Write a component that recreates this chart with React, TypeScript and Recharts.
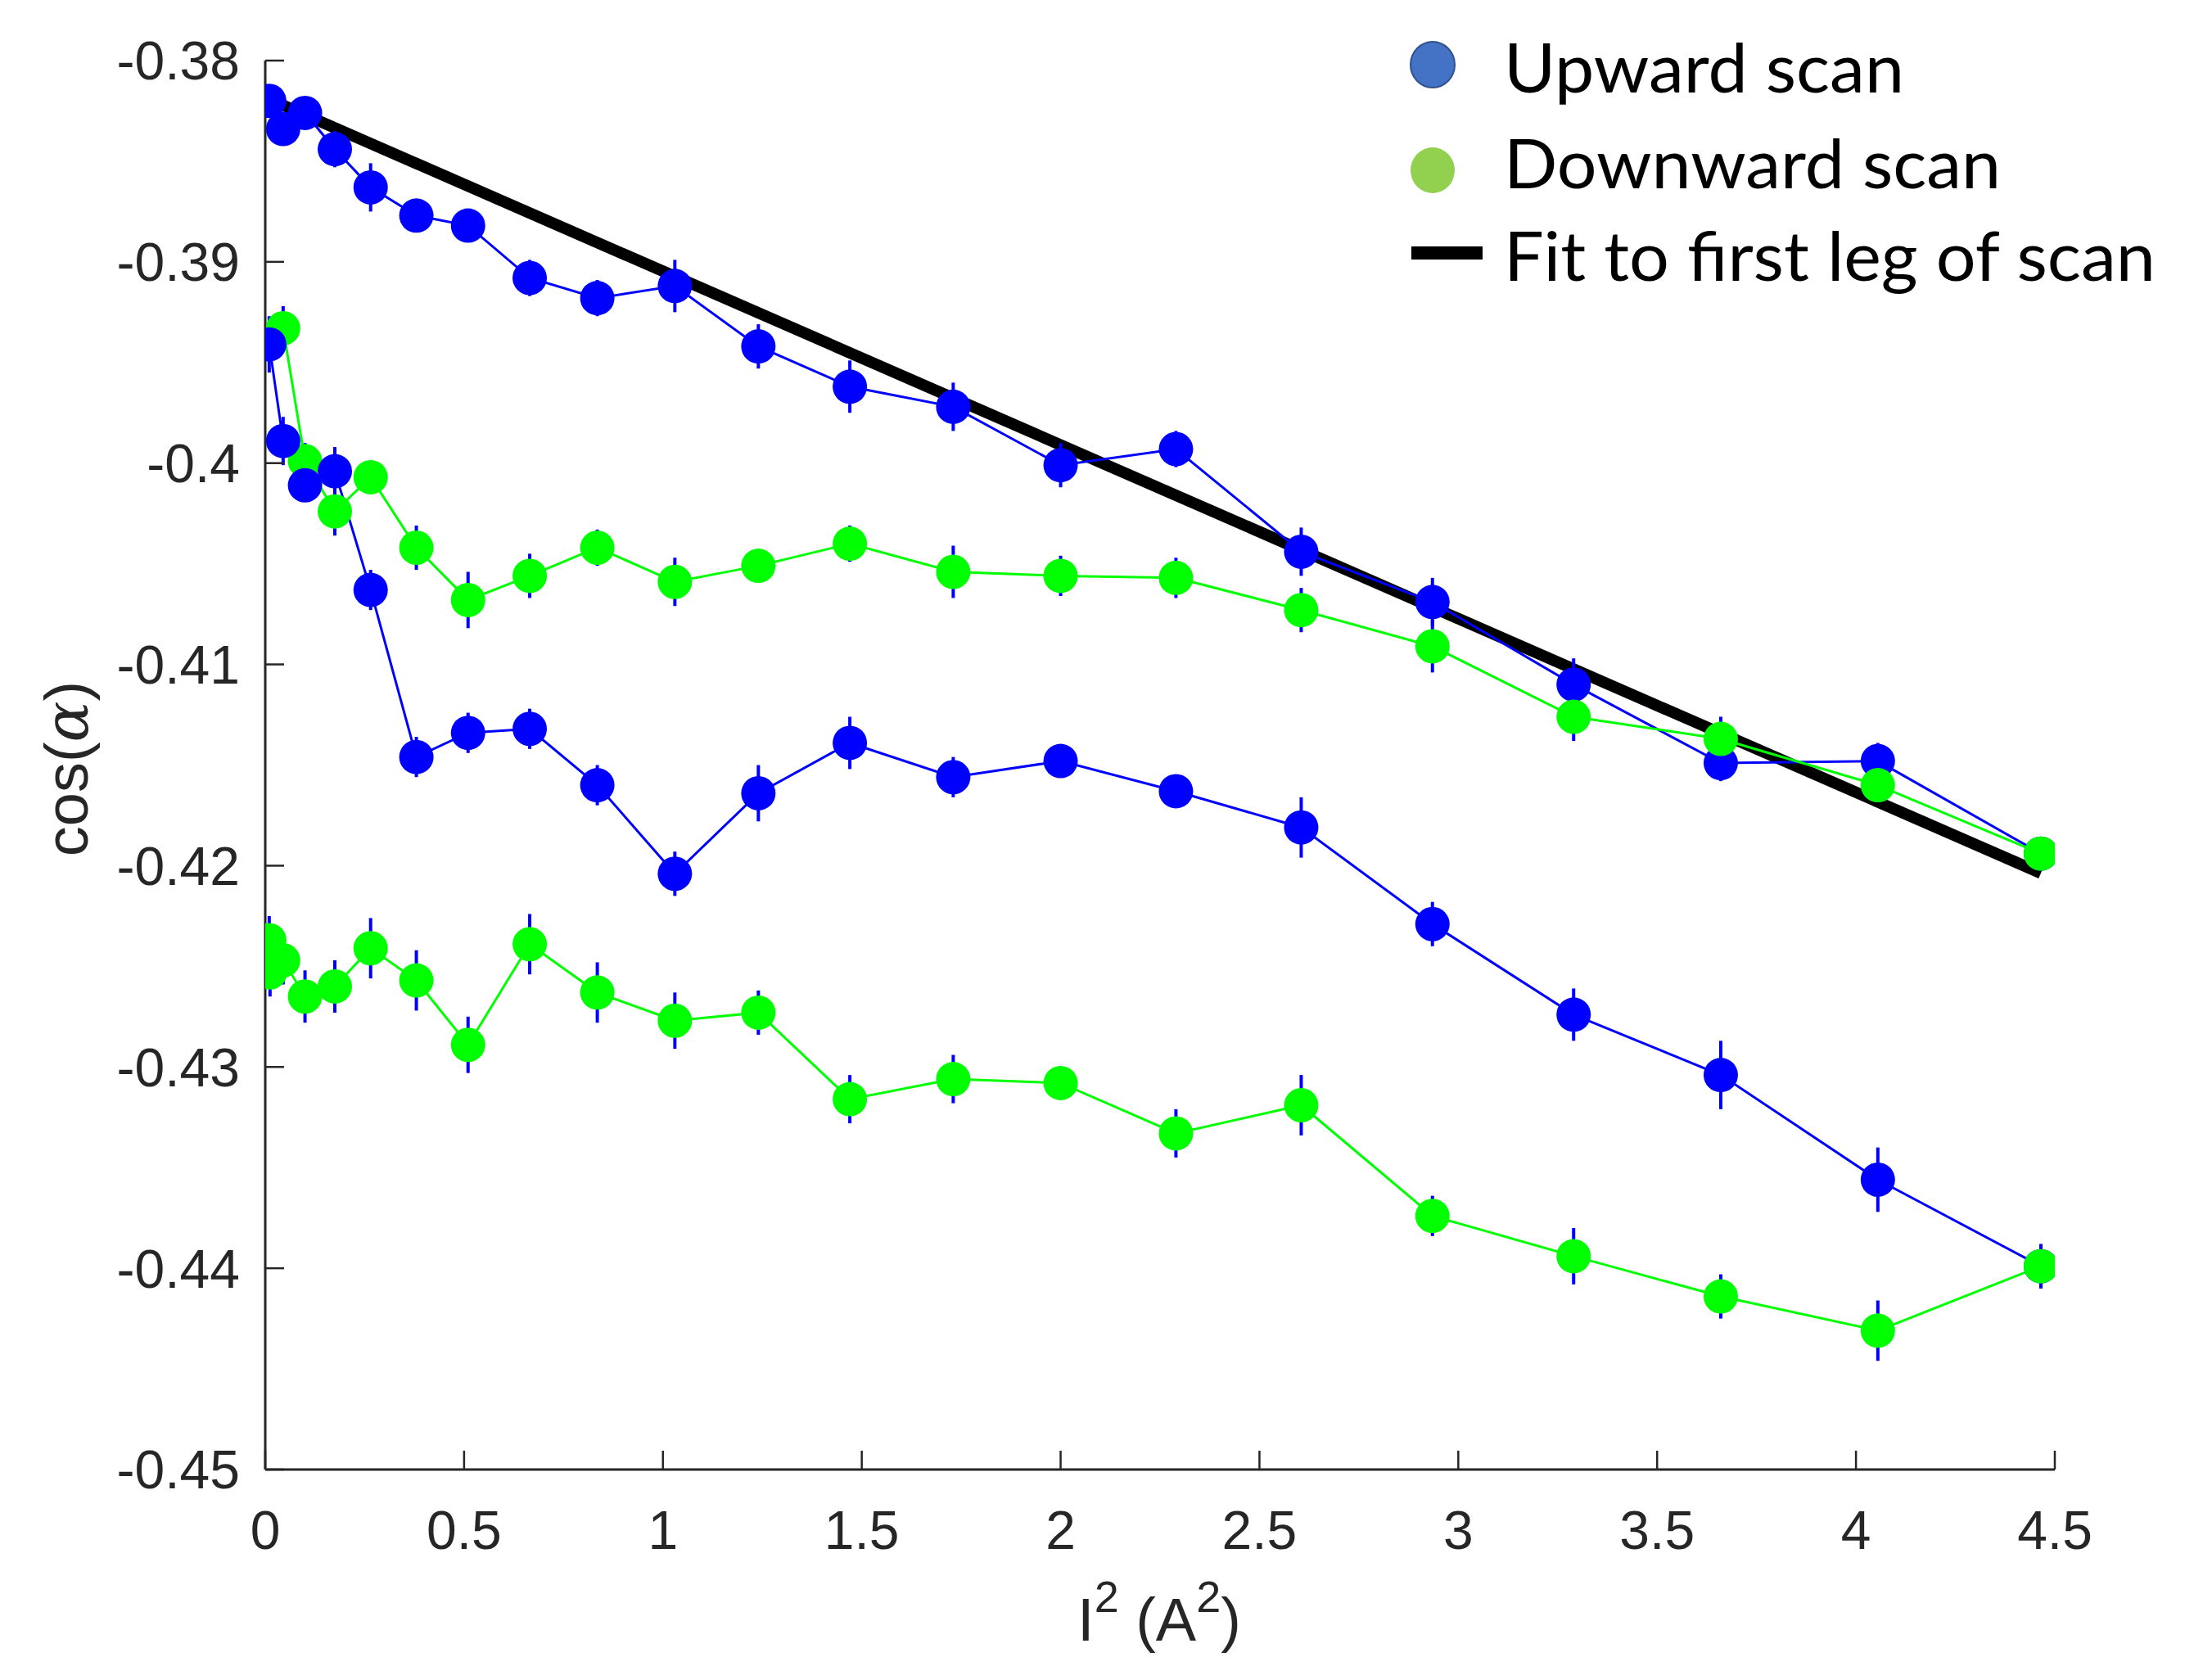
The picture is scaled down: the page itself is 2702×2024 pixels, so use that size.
import { LineChart, Line, XAxis, YAxis, ErrorBar } from "recharts";

const W = 2702;
const H = 2024;

// I^2 (A^2) values of the current steps
const i2Steps = [
  0.01, 0.045, 0.1, 0.175, 0.265, 0.38, 0.51, 0.665, 0.835, 1.03, 1.24, 1.47,
  1.73, 2.0, 2.29, 2.605, 2.935, 3.29, 3.66, 4.055, 4.465,
];

// first upward leg
const upCos1 = [
  -0.382, -0.3834, -0.3826, -0.3844, -0.3863, -0.3877, -0.3882, -0.3908,
  -0.3918, -0.3912, -0.3942, -0.3962, -0.3972, -0.4001, -0.3993, -0.4044,
  -0.4069, -0.411, -0.4149, -0.4148, -0.4194,
];
const upErr1 = [
  0.0008, 0.0008, 0.0008, 0.0009, 0.0012, 0.0008, 0.0008, 0.0009, 0.0009,
  0.0013, 0.0011, 0.0013, 0.0012, 0.0011, 0.0009, 0.0012, 0.0012, 0.0013,
  0.0009, 0.0009, 0.0008,
];

// first downward leg (from high current back to low)
const downI2_1 = [
  4.465, 4.055, 3.66, 3.29, 2.935, 2.605, 2.29, 2.0, 1.73, 1.47, 1.24, 1.03,
  0.835, 0.665, 0.51, 0.38, 0.265, 0.175, 0.1, 0.045,
];
const downCos1 = [
  -0.4194, -0.416, -0.4137, -0.4126, -0.4091, -0.4073, -0.4057, -0.4056,
  -0.4054, -0.404, -0.4051, -0.4059, -0.4042, -0.4056, -0.4068, -0.4042,
  -0.4007, -0.4024, -0.3999, -0.3933,
];
const downErr1 = [
  0.0006, 0.0006, 0.0011, 0.0012, 0.0013, 0.0011, 0.001, 0.001, 0.0013, 0.0009,
  0.0008, 0.0012, 0.0009, 0.0011, 0.0014, 0.0011, 0.0008, 0.0012, 0.0009,
  0.0011,
];

// second upward leg
const upCos2 = [
  -0.3941, -0.3989, -0.4011, -0.4004, -0.4063, -0.4146, -0.4134, -0.4132,
  -0.416, -0.4204, -0.4164, -0.4139, -0.4156, -0.4148, -0.4163, -0.4181,
  -0.4229, -0.4274, -0.4304, -0.4356, -0.4399,
];
const upErr2 = [
  0.0014, 0.0012, 0.0008, 0.0012, 0.001, 0.001, 0.001, 0.001, 0.001, 0.0011,
  0.0014, 0.0013, 0.001, 0.0008, 0.0008, 0.0015, 0.0011, 0.0013, 0.0017,
  0.0016, 0.0011,
];

// second downward leg
const downI2_2 = [
  4.465, 4.055, 3.66, 3.29, 2.935, 2.605, 2.29, 2.0, 1.73, 1.47, 1.24, 1.03,
  0.835, 0.665, 0.51, 0.38, 0.265, 0.175, 0.1, 0.045, 0.012, 0.01,
];
const downCos2 = [
  -0.4399, -0.4431, -0.4414, -0.4394, -0.4374, -0.4319, -0.4333, -0.4308,
  -0.4306, -0.4316, -0.4273, -0.4277, -0.4263, -0.4239, -0.4289, -0.4257,
  -0.4241, -0.426, -0.4265, -0.4247, -0.4253, -0.4237,
];
const downErr2 = [
  0.0011, 0.0015, 0.0011, 0.0014, 0.001, 0.0015, 0.0012, 0.0008, 0.0012,
  0.0012, 0.0011, 0.0014, 0.0015, 0.0015, 0.0014, 0.0015, 0.0015, 0.0013,
  0.0013, 0.0012, 0.0012, 0.0012,
];

// linear fit to the first leg
const fitI2 = [0.01, 4.465];
const fitCos = [-0.38192, -0.42037];

const xTicks = [0, 0.5, 1, 1.5, 2, 2.5, 3, 3.5, 4, 4.5];
const yTicks = [-0.45, -0.44, -0.43, -0.42, -0.41, -0.4, -0.39, -0.38];

const toPoints = (xs: number[], ys: number[], es?: number[]) =>
  xs.map((x, i) => ({ x, y: ys[i], e: es ? es[i] : 0 }));

const BLUE = "#0000FF";
const GREEN = "#00FF00";
const AXIS = "#262626";
const TICK_FONT = "'Liberation Sans', Arial, sans-serif";

export default function App() {
  const up1 = toPoints(i2Steps, upCos1, upErr1);
  const down1 = toPoints(downI2_1, downCos1, downErr1);
  const up2 = toPoints(i2Steps, upCos2, upErr2);
  const down2 = toPoints(downI2_2, downCos2, downErr2);
  const fit = toPoints(fitI2, fitCos);

  const series = [
    { key: "up1", data: up1, color: BLUE },
    { key: "down1", data: down1, color: GREEN },
    { key: "up2", data: up2, color: BLUE },
    { key: "down2", data: down2, color: GREEN },
  ];

  return (
    <div
      style={{
        position: "absolute",
        left: 0,
        top: 0,
        width: W,
        height: H,
        background: "#ffffff",
      }}
    >
      <LineChart
        width={W}
        height={H}
        margin={{ top: 74, right: 192, bottom: 0, left: 0 }}
      >
        <XAxis
          dataKey="x"
          type="number"
          domain={[0, 4.5]}
          ticks={xTicks}
          allowDataOverflow
          height={229}
          axisLine={{ stroke: AXIS, strokeWidth: 3 }}
          tickLine={{ stroke: AXIS, strokeWidth: 2.5 }}
          tickSize={-23}
          tickMargin={73}
          tick={{ fill: AXIS, fontSize: 66, fontFamily: TICK_FONT }}
          tickFormatter={(v: number) => String(v)}
        />
        <YAxis
          type="number"
          domain={[-0.45, -0.38]}
          ticks={yTicks}
          allowDataOverflow
          width={324}
          axisLine={{ stroke: AXIS, strokeWidth: 3 }}
          tickLine={{ stroke: AXIS, strokeWidth: 2.5 }}
          tickSize={-23}
          tickMargin={54}
          tick={{ fill: AXIS, fontSize: 66, fontFamily: TICK_FONT }}
          tickFormatter={(v: number) => String(v)}
        />
        <Line
          data={fit}
          dataKey="y"
          type="linear"
          stroke="#000000"
          strokeWidth={14}
          dot={false}
          activeDot={false}
          isAnimationActive={false}
        />
        {series.map((s) => (
          <Line
            key={s.key}
            data={s.data}
            dataKey="y"
            type="linear"
            stroke={s.color}
            strokeWidth={3}
            dot={{ r: 21, fill: s.color, stroke: "none", strokeWidth: 0 }}
            activeDot={false}
            isAnimationActive={false}
          >
            <ErrorBar
              dataKey="e"
              direction="y"
              width={0}
              stroke={BLUE}
              strokeWidth={4}
              isAnimationActive={false}
            />
          </Line>
        ))}
      </LineChart>

      <svg
        width={W}
        height={H}
        style={{ position: "absolute", left: 0, top: 0, pointerEvents: "none" }}
      >
        {/* axis titles */}
        <text
          transform="translate(107,939) rotate(-90)"
          textAnchor="middle"
          fontFamily={TICK_FONT}
          fontSize={74}
          fill={AXIS}
        >
          cos(
          <tspan fontFamily="'DejaVu Serif', serif" fontStyle="italic">
            α
          </tspan>
          )
        </text>
        <text
          x={1416}
          y={2004}
          textAnchor="middle"
          fontFamily={TICK_FONT}
          fontSize={74}
          fill={AXIS}
        >
          I
          <tspan dy={-35} fontSize={54}>
            2
          </tspan>
          <tspan dy={35}> (A</tspan>
          <tspan dy={-35} fontSize={54}>
            2
          </tspan>
          <tspan dy={35}>)</tspan>
        </text>

        {/* legend */}
        <ellipse
          cx={1750}
          cy={79}
          rx={27}
          ry={28}
          fill="#4472C4"
          stroke="#2F528F"
          strokeWidth={2}
        />
        <ellipse cx={1750} cy={208} rx={27} ry={28} fill="#92D050" />
        <rect x={1724} y={301} width={87} height={16} fill="#000000" />
        <g fontFamily="Lato, 'Open Sans', sans-serif" fontSize={84} fill="#000">
          <text x={1837} y={113} textLength={489} lengthAdjust="spacingAndGlyphs">
            Upward scan
          </text>
          <text x={1837} y={230} textLength={607} lengthAdjust="spacingAndGlyphs">
            Downward scan
          </text>
          <text x={1837} y={343} textLength={796} lengthAdjust="spacingAndGlyphs">
            Fit to first leg of scan
          </text>
        </g>
      </svg>
    </div>
  );
}
